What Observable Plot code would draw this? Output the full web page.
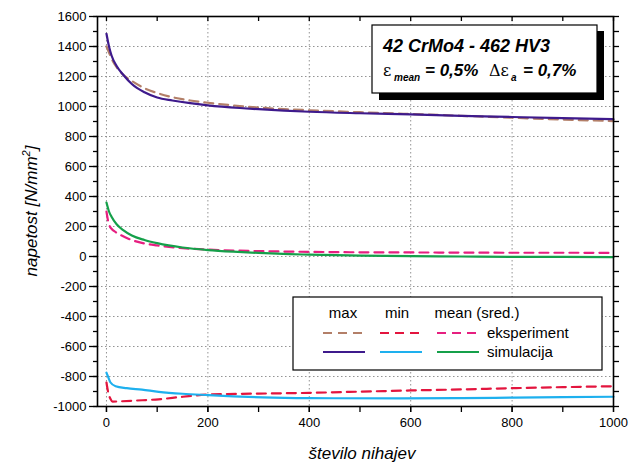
<!DOCTYPE html>
<html><head><meta charset="utf-8">
<script src="https://cdn.jsdelivr.net/npm/d3@7"></script>
<script src="https://cdn.jsdelivr.net/npm/@observablehq/plot@0.6"></script>
<style>body{margin:0;background:#fff} svg{display:block}</style>
</head><body><div id="chart"></div>
<script>
// ---- data ----
const maxExpX = [0, 5, 10, 20, 33, 50, 75, 100, 130, 165, 200, 263, 300, 400, 500, 600, 700, 800, 900, 1000];
const maxExpY = [1400, 1360, 1320, 1262, 1212, 1170, 1122, 1090, 1062, 1040, 1025, 1003, 993, 975, 962, 950, 938, 925, 913, 903];
const maxSimX = [0, 5, 10, 20, 33, 50, 75, 100, 130, 165, 200, 263, 300, 400, 500, 600, 700, 800, 900, 1000];
const maxSimY = [1485, 1400, 1340, 1270, 1212, 1150, 1095, 1060, 1040, 1022, 1008, 990, 982, 965, 955, 947, 938, 930, 922, 915];
const meanExpX = [0, 3, 6, 10, 18, 30, 53, 75, 100, 150, 200, 300, 400, 500, 600, 700, 800, 900, 1000];
const meanExpY = [300, 240, 205, 185, 163, 140, 106, 87, 74, 56, 46, 36, 31, 28, 27, 26, 25, 25, 24];
const meanSimX = [0, 5, 10, 20, 33, 50, 75, 100, 150, 200, 250, 300, 361, 400, 500, 600, 700, 800, 900, 1000];
const meanSimY = [360, 300, 265, 215, 176, 140, 110, 89, 60, 43, 32, 24, 16, 12, 6, 2, 0, -2, -3, -4];
const minExpX = [0, 3, 8, 12, 30, 60, 103, 150, 201, 300, 400, 500, 600, 700, 800, 900, 1000];
const minExpY = [-840, -900, -950, -967, -965, -960, -952, -935, -920, -914, -909, -901, -893, -886, -878, -871, -865];
const minSimX = [0, 3, 8, 18, 40, 70, 103, 150, 201, 250, 308, 400, 580, 700, 800, 900, 1000];
const minSimY = [-775, -800, -840, -865, -878, -888, -902, -915, -924, -932, -939, -944, -946, -944, -941, -938, -935];

const xTicks = [0, 200, 400, 600, 800, 1000];
const xMinor = [0, 100, 200, 300, 400, 500, 600, 700, 800, 900, 1000];
const yTicks = [-1000, -800, -600, -400, -200, 0, 200, 400, 600, 800, 1000, 1200, 1400, 1600];
const yMinor = d3.range(-1000, 1601, 100);

const legendCols = ["max", "min", "mean (sred.)"];
const legendRows = ["eksperiment", "simulacija"];
const boxTitle = "42 CrMo4 - 462 HV3";
const xLabel = "število nihajev";
const yLabel = "napetost [N/mm";

// ---- styles ----
const series = [
  {xs: maxExpX, ys: maxExpY, color: "#b37f68", dash: "9,6"},
  {xs: minExpX, ys: minExpY, color: "#e3153e", dash: "9,6"},
  {xs: meanExpX, ys: meanExpY, color: "#e61f80", dash: "9,6"},
  {xs: maxSimX, ys: maxSimY, color: "#3e1a8c", dash: null},
  {xs: minSimX, ys: minSimY, color: "#1eb0ee", dash: null},
  {xs: meanSimX, ys: meanSimY, color: "#15a04a", dash: null}
];

const font = "'Liberation Sans', Arial, Helvetica, sans-serif";
const W = 639, H = 468;
const fmt = d => String(d);
const blank = () => "";

const lineMarks = series.map(s => Plot.line(s.xs.map((x, i) => ({x, y: s.ys[i]})), {
  x: "x", y: "y", stroke: s.color, strokeWidth: 2.2, strokeDasharray: s.dash, curve: "monotone-x"
}));

const chart = Plot.plot({
  width: W, height: H,
  marginLeft: 97, marginRight: 26, marginTop: 16, marginBottom: 62,
  style: {fontFamily: font, background: "#fff", color: "#000"},
  x: {domain: [-17.7, 1000], label: null},
  y: {domain: [-1000, 1600], label: null},
  marks: [
    Plot.gridX(xTicks, {stroke: "#888", strokeOpacity: 0.9, strokeDasharray: "1.5,2.5"}),
    Plot.gridY(yTicks, {stroke: "#888", strokeOpacity: 0.9, strokeDasharray: "1.5,2.5"}),
    ...lineMarks,
    Plot.axisY(yMinor, {anchor: "left", tickSize: 4, tickFormat: blank, strokeWidth: 1.3}),
    Plot.axisY(yTicks, {anchor: "left", tickSize: 8, tickPadding: 3, fontSize: 13, tickFormat: fmt, strokeWidth: 1.3}),
    Plot.axisY(yMinor, {anchor: "right", tickSize: 5, tickFormat: blank, strokeWidth: 1.3}),
    Plot.axisX(xMinor, {anchor: "bottom", tickSize: 6, tickFormat: blank, strokeWidth: 1.3}),
    Plot.axisX(xTicks, {anchor: "bottom", tickSize: 6, tickPadding: 5, fontSize: 13, tickFormat: fmt, strokeWidth: 1.3}),
    Plot.axisX(xMinor, {anchor: "top", tickSize: -4, tickFormat: blank, strokeWidth: 1.3}),
    Plot.frame({stroke: "#000", strokeWidth: 1.6})
  ]
});
document.getElementById("chart").appendChild(chart);

// ---- annotations ----
const svg = d3.select(chart);
svg.append("text").attr("x", 362).attr("y", 459).attr("text-anchor", "middle")
  .attr("font-family", font).attr("font-size", 17).attr("font-style", "italic").text(xLabel);
const yl = svg.append("text").attr("transform", "translate(37,211) rotate(-90)").attr("text-anchor", "middle")
  .attr("font-family", font).attr("font-size", 17).attr("font-style", "italic");
yl.append("tspan").text(yLabel);
yl.append("tspan").attr("dy", -7).attr("font-size", 11).text("2");
yl.append("tspan").attr("dy", 7).text("]");

// info box
const ib = svg.append("g").attr("text-anchor", "start");
ib.append("rect").attr("x", 379).attr("y", 31).attr("width", 225).attr("height", 69).attr("fill", "#000");
ib.append("rect").attr("x", 372).attr("y", 25).attr("width", 225).attr("height", 68).attr("fill", "#fff").attr("stroke", "#000").attr("stroke-width", 1.2);
ib.append("text").attr("x", 383).attr("y", 52).attr("font-family", font).attr("font-size", 18)
  .attr("font-weight", "bold").attr("font-style", "italic").attr("text-anchor", "start").text(boxTitle);
const t2 = ib.append("text").attr("y", 76).attr("font-family", font).attr("font-size", 17).attr("text-anchor", "start");
t2.append("tspan").attr("x", 383).attr("font-family", "'DejaVu Serif', serif").attr("font-size", 16).text("ε");
t2.append("tspan").attr("x", 394).attr("dy", 5).attr("font-size", 10).attr("font-weight", "bold").attr("font-style", "italic").text("mean");
t2.append("tspan").attr("x", 425).attr("dy", -5).attr("font-weight", "bold").attr("font-style", "italic").text("= 0,5%");
t2.append("tspan").attr("x", 489).attr("font-family", "'DejaVu Serif', serif").attr("font-size", 16).text("Δε");
t2.append("tspan").attr("x", 511).attr("dy", 5).attr("font-size", 10).attr("font-weight", "bold").attr("font-style", "italic").text("a");
t2.append("tspan").attr("x", 523).attr("dy", -5).attr("font-weight", "bold").attr("font-style", "italic").text("= 0,7%");

// legend box
const lg = svg.append("g").attr("font-family", font).attr("font-size", 15).attr("text-anchor", "start");
lg.append("rect").attr("x", 293).attr("y", 297).attr("width", 309).attr("height", 73).attr("fill", "#fff").attr("stroke", "#000").attr("stroke-width", 1.2);
const colX = [343, 397, 477];
legendCols.forEach((c, i) => lg.append("text").attr("x", colX[i]).attr("y", 318).attr("text-anchor", "middle").text(c));
const sampleX = [323, 380, 437];
const rowY = [333, 352];
series.forEach((s, k) => {
  const r = Math.floor(k / 3), c = k % 3;
  lg.append("line").attr("x1", sampleX[c]).attr("x2", sampleX[c] + 42).attr("y1", rowY[r]).attr("y2", rowY[r])
    .attr("stroke", s.color).attr("stroke-width", 2.2).attr("stroke-dasharray", s.dash);
});
legendRows.forEach((t, r) => lg.append("text").attr("x", 487).attr("y", rowY[r] + 5).attr("text-anchor", "start").text(t));
</script>
</body></html>
